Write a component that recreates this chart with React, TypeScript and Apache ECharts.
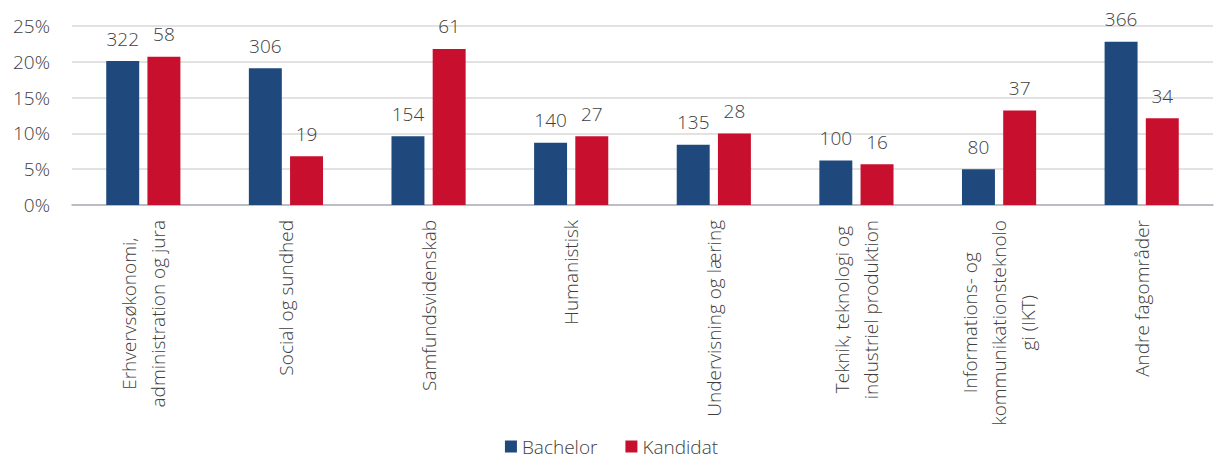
import React, { useEffect, useRef } from "react";
import * as echarts from "echarts";

const categories = [
  "Erhvervsøkonomi,\nadministration og jura",
  "Social og sundhed",
  "Samfundsvidenskab",
  "Humanistisk",
  "Undervisning og læring",
  "Teknik, teknologi og\nindustriel produktion",
  "Informations- og\nkommunikationsteknolo\ngi (IKT)",
  "Andre fagområder",
];
const bachelorPct = [20.1, 19.1, 9.6, 8.7, 8.4, 6.2, 5.0, 22.8];
const kandidatPct = [20.7, 6.8, 21.8, 9.6, 10.0, 5.7, 13.2, 12.1];
const bachelorCount = [322, 306, 154, 140, 135, 100, 80, 366];
const kandidatCount = [58, 19, 61, 27, 28, 16, 37, 34];
const yTicks = { min: 0, max: 25, interval: 5 };

const FONT = "'Open Sans', 'Noto Sans', sans-serif";
const TEXT = "#404040";
const FS = 19;

export default function App() {
  const ref = useRef<HTMLDivElement>(null);
  useEffect(() => {
    document.body.style.margin = "0";
    if (!ref.current) return;
    const chart = echarts.init(ref.current, undefined, { renderer: "svg" });
    const labelStyle = (counts: number[]) => ({
      show: true,
      position: "top" as const,
      distance: 13,
      color: TEXT,
      fontSize: FS,
      fontFamily: FONT,
      fontWeight: 300,
      formatter: (p: any) => String(counts[p.dataIndex]),
    });
    chart.setOption({
      animation: false,
      textStyle: { fontFamily: FONT },
      grid: { left: 72, right: 10, top: 26, bottom: 254, containLabel: false },
      legend: {
        data: ["Bachelor", "Kandidat"],
        left: "center",
        top: 437,
        padding: 0,
        itemWidth: 12,
        itemHeight: 12,
        itemGap: 28,
        icon: "rect",
        textStyle: { color: TEXT, fontSize: FS, fontFamily: FONT, fontWeight: 300, lineHeight: 16 },
      },
      xAxis: {
        type: "category",
        data: categories,
        axisTick: { show: false },
        axisLine: { lineStyle: { color: "#b0b0b8", width: 1.5 } },
        axisLabel: {
          interval: 0,
          rotate: 90,
          margin: 15,
          formatter: (v: string) =>
            v.split("\n").map((l) => `{c|${l}}`).join("\n"),
          rich: {
            c: {
              align: "center",
              fontSize: FS,
              lineHeight: 29,
              color: TEXT,
              fontFamily: FONT,
              fontWeight: 300,
            },
          },
        },
      },
      yAxis: {
        type: "value",
        min: yTicks.min,
        max: yTicks.max,
        interval: yTicks.interval,
        axisLine: { show: false },
        axisTick: { show: false },
        splitLine: { lineStyle: { color: "#d9d9d9", width: 1.5 } },
        axisLabel: {
          formatter: "{value}%",
          margin: 22,
          color: TEXT,
          fontSize: FS,
          fontFamily: FONT,
          fontWeight: 300,
        },
      },
      series: [
        {
          name: "Bachelor",
          type: "bar",
          data: bachelorPct,
          barGap: "25%",
          barCategoryGap: "48%",
          itemStyle: { color: "#1f497d" },
          label: labelStyle(bachelorCount),
        },
        {
          name: "Kandidat",
          type: "bar",
          data: kandidatPct,
          itemStyle: { color: "#c8102e" },
          label: labelStyle(kandidatCount),
        },
      ],
    });
    return () => chart.dispose();
  }, []);
  return <div ref={ref} style={{ width: 1223, height: 459 }} />;
}
